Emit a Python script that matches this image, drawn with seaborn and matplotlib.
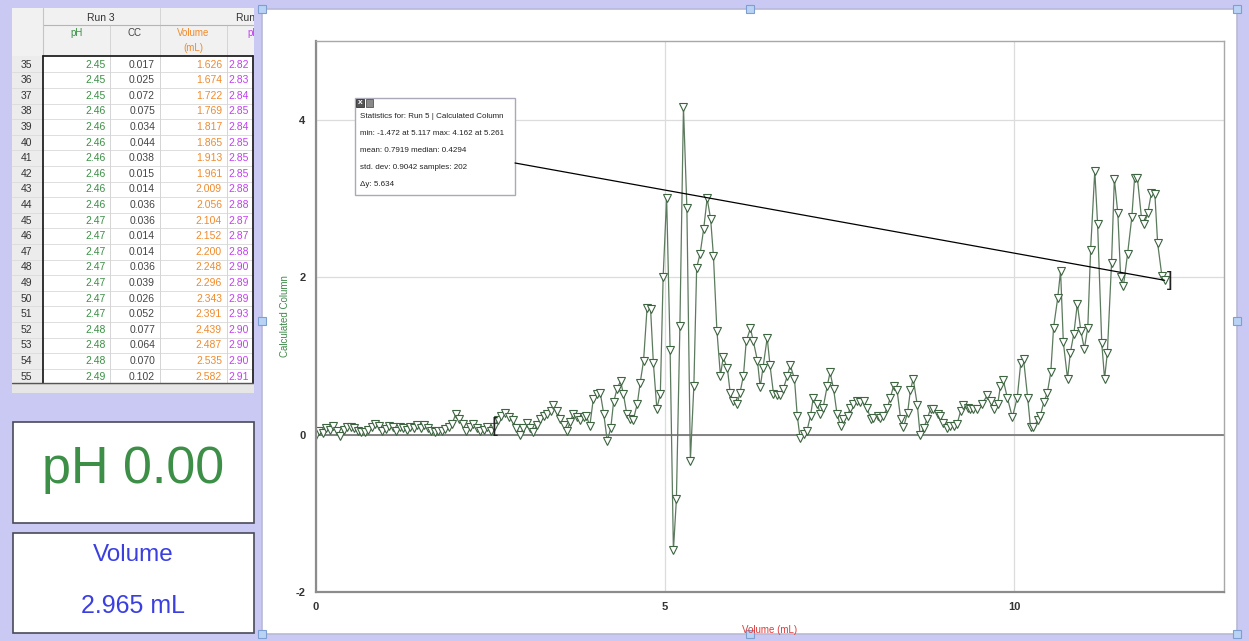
import matplotlib.pyplot as plt
import seaborn as sns
import pandas as pd
from matplotlib.patches import Rectangle, ConnectionPatch

# ---- graph data (Run 5, Calculated Column vs Volume) ----
vol = [0.00, 0.05, 0.10, 0.15, 0.20, 0.25, 0.30, 0.35, 0.40, 0.45, 0.50, 0.55, 0.60, 0.65, 0.70,
       0.75, 0.80, 0.85, 0.90, 0.95, 1.00, 1.05, 1.10, 1.15, 1.20, 1.25, 1.30, 1.35, 1.40, 1.45,
       1.50, 1.55, 1.60, 1.65, 1.70, 1.75, 1.80, 1.85, 1.90, 1.95, 2.00, 2.05, 2.10, 2.15, 2.20,
       2.25, 2.30, 2.35, 2.40, 2.45, 2.50, 2.55, 2.60, 2.65, 2.71, 2.77, 2.82, 2.87, 2.92, 2.97,
       3.02, 3.07, 3.11, 3.16, 3.21, 3.26, 3.31, 3.36, 3.40, 3.45, 3.50, 3.55, 3.59, 3.64, 3.68,
       3.73, 3.78, 3.83, 3.87, 3.92, 3.97, 4.02, 4.07, 4.12, 4.17, 4.22, 4.26, 4.31, 4.36, 4.40,
       4.45, 4.50, 4.54, 4.60, 4.64, 4.69, 4.74, 4.79, 4.83, 4.88, 4.93, 4.97, 5.02, 5.07, 5.117,
       5.16, 5.21, 5.261, 5.31, 5.36, 5.41, 5.45, 5.50, 5.55, 5.60, 5.65, 5.69, 5.74, 5.79, 5.83,
       5.89, 5.93, 5.97, 6.03, 6.07, 6.12, 6.16, 6.22, 6.26, 6.32, 6.36, 6.40, 6.46, 6.50, 6.55,
       6.60, 6.65, 6.69, 6.75, 6.79, 6.85, 6.89, 6.93, 6.98, 7.03, 7.08, 7.12, 7.18, 7.22, 7.26,
       7.32, 7.36, 7.41, 7.46, 7.51, 7.55, 7.61, 7.65, 7.69, 7.75, 7.79, 7.84, 7.89, 7.94, 7.98,
       8.04, 8.08, 8.12, 8.18, 8.22, 8.27, 8.32, 8.37, 8.41, 8.47, 8.51, 8.55, 8.61, 8.65, 8.70,
       8.75, 8.80, 8.84, 8.90, 8.94, 8.98, 9.04, 9.08, 9.13, 9.18, 9.23, 9.27, 9.33, 9.37, 9.41,
       9.47, 9.54, 9.61, 9.66, 9.70, 9.76, 9.80, 9.84, 9.90, 9.97, 10.04, 10.09, 10.13, 10.19, 10.23,
       10.27, 10.33, 10.37, 10.42, 10.47, 10.52, 10.56, 10.62, 10.66, 10.70, 10.76, 10.80, 10.85, 10.90, 10.95,
       11.00, 11.05, 11.09, 11.15, 11.19, 11.25, 11.29, 11.33, 11.39, 11.43, 11.48, 11.52, 11.56, 11.62, 11.68,
       11.72, 11.76, 11.82, 11.86, 11.91, 11.96, 12.01, 12.05, 12.11, 12.15]
calc = [0.00, 0.04, 0.02, 0.08, 0.06, 0.11, 0.05, -0.02, 0.06, 0.10, 0.09, 0.08, 0.05, 0.03, 0.03,
        0.06, 0.09, 0.13, 0.11, 0.04, 0.07, 0.11, 0.09, 0.05, 0.10, 0.08, 0.06, 0.10, 0.08, 0.12,
        0.08, 0.12, 0.08, 0.05, 0.03, 0.05, 0.04, 0.07, 0.10, 0.14, 0.26, 0.20, 0.13, 0.04, 0.10,
        0.14, 0.08, 0.04, 0.06, 0.09, 0.05, 0.10, 0.18, 0.24, 0.28, 0.22, 0.18, 0.08, 0.00, 0.08,
        0.15, 0.08, 0.03, 0.12, 0.20, 0.24, 0.26, 0.30, 0.37, 0.30, 0.20, 0.12, 0.05, 0.16, 0.26,
        0.22, 0.18, 0.22, 0.24, 0.11, 0.45, 0.52, 0.53, 0.26, -0.08, 0.08, 0.41, 0.58, 0.68, 0.52,
        0.26, 0.20, 0.18, 0.39, 0.65, 0.94, 1.61, 1.60, 0.91, 0.33, 0.52, 2.00, 3.01, 1.07, -1.472,
        -0.82, 1.38, 4.162, 2.88, -0.33, 0.62, 2.12, 2.30, 2.61, 3.00, 2.74, 2.27, 1.32, 0.75, 0.98,
        0.84, 0.53, 0.43, 0.39, 0.53, 0.75, 1.19, 1.35, 1.19, 0.94, 0.60, 0.85, 1.23, 0.88, 0.52,
        0.50, 0.50, 0.58, 0.75, 0.88, 0.71, 0.24, -0.04, 0.01, 0.05, 0.24, 0.47, 0.39, 0.26, 0.34,
        0.62, 0.79, 0.58, 0.26, 0.11, 0.20, 0.24, 0.34, 0.39, 0.43, 0.41, 0.43, 0.34, 0.20, 0.21,
        0.24, 0.21, 0.24, 0.34, 0.46, 0.62, 0.56, 0.20, 0.09, 0.28, 0.56, 0.71, 0.37, -0.01, 0.08,
        0.20, 0.33, 0.33, 0.26, 0.24, 0.15, 0.08, 0.11, 0.11, 0.14, 0.30, 0.37, 0.34, 0.33, 0.33,
        0.33, 0.39, 0.50, 0.43, 0.33, 0.39, 0.62, 0.69, 0.46, 0.22, 0.47, 0.91, 0.96, 0.46, 0.09,
        0.09, 0.18, 0.24, 0.41, 0.53, 0.79, 1.36, 1.74, 2.08, 1.17, 0.71, 1.04, 1.28, 1.66, 1.32,
        1.09, 1.36, 2.34, 3.35, 2.68, 1.16, 0.71, 1.04, 2.18, 3.25, 2.81, 2.00, 1.89, 2.30, 2.76,
        3.26, 3.26, 2.74, 2.68, 2.82, 3.07, 3.06, 2.43, 2.02, 1.96]
sel_start = 2.56

# ---- data table ----
row_ids = list(range(35, 56))
ph_run3 = [2.45, 2.45, 2.45, 2.46, 2.46, 2.46, 2.46, 2.46, 2.46, 2.46, 2.47, 2.47, 2.47, 2.47,
           2.47, 2.47, 2.47, 2.48, 2.48, 2.48, 2.49]
cc_run3 = [0.017, 0.025, 0.072, 0.075, 0.034, 0.044, 0.038, 0.015, 0.014, 0.036, 0.036, 0.014,
           0.014, 0.036, 0.039, 0.026, 0.052, 0.077, 0.064, 0.070, 0.102]
vol_run4 = [1.626, 1.674, 1.722, 1.769, 1.817, 1.865, 1.913, 1.961, 2.009, 2.056, 2.104, 2.152,
            2.200, 2.248, 2.296, 2.343, 2.391, 2.439, 2.487, 2.535, 2.582]
ph_run4 = [2.82, 2.83, 2.84, 2.85, 2.84, 2.85, 2.85, 2.85, 2.88, 2.88, 2.87, 2.87, 2.88, 2.90,
           2.89, 2.89, 2.93, 2.90, 2.90, 2.90, 2.91]

stats_lines = ["Statistics for: Run 5 | Calculated Column",
               "min: -1.472 at 5.117 max: 4.162 at 5.261",
               "mean: 0.7919 median: 0.4294",
               "std. dev: 0.9042 samples: 202",
               "\u0394y: 5.634"]

sns.set_style("white")
plt.rcParams['font.family'] = ['Liberation Sans', 'DejaVu Sans']
plt.rcParams['axes.unicode_minus'] = False

W, H = 1249, 641
LAV = '#c9c9f4'
GREEN = '#3d8f47'
BLUE = '#3b3fe0'
ORANGE = '#f08a2c'
MAGENTA = '#c23ff0'

fig = plt.figure(figsize=(W / 100, H / 100), dpi=100)
fig.patch.set_facecolor(LAV)


def px_axes(x0, y0, x1, y1, z=0):
    a = fig.add_axes([x0 / W, 1 - y1 / H, (x1 - x0) / W, (y1 - y0) / H], zorder=z)
    a.set_xlim(x0, x1)
    a.set_ylim(y1, y0)
    a.axis('off')
    return a


# background layer: graph window, meter boxes
bg = px_axes(0, 0, W, H, z=0)
bg.add_patch(Rectangle((262, 9), 975, 625, facecolor='white', edgecolor='#b9b9d6', lw=1.2))
for (bx, by, bw, bh) in [(13, 422, 241, 101), (13, 533, 241, 100)]:
    bg.add_patch(Rectangle((bx, by), bw, bh, facecolor='white', edgecolor='#4a4a5a', lw=1.2))
bg.text(133, 469, "pH 0.00", color=GREEN, fontsize=37.5, ha='center', va='center')
bg.text(133, 555, "Volume", color=BLUE, fontsize=17.5, ha='center', va='center')
bg.text(133, 606, "2.965 mL", color=BLUE, fontsize=18, ha='center', va='center')
for hx, hy in [(262, 9), (750, 9), (1237, 9), (262, 321), (1237, 321), (262, 634), (750, 634), (1237, 634)]:
    bg.add_patch(Rectangle((hx - 4, hy - 4), 8, 8, facecolor='#b9d3f5', edgecolor='#7f9fd0', lw=0.8, zorder=5))

# table layer
tb = px_axes(12, 8, 254, 393, z=1)
tb.add_patch(Rectangle((12, 8), 242, 385, facecolor='white', edgecolor='none'))
tb.add_patch(Rectangle((12, 8), 242, 48, facecolor='#f1f1f1', edgecolor='none'))
tb.add_patch(Rectangle((12, 56), 31, 327, facecolor='#ececec', edgecolor='none'))
tb.add_patch(Rectangle((12, 383), 242, 10, facecolor='#e6e6e6', edgecolor='none'))
row_h = 15.6
for i, rid in enumerate(row_ids):
    yc = 64.5 + i * row_h
    tb.plot([12, 254], [yc + row_h / 2] * 2, color='#dddddd', lw=0.7)
    tb.text(21, yc, str(rid), fontsize=7.5, color='#333333', va='center', ha='left')
    tb.text(106, yc, f"{ph_run3[i]:.2f}", fontsize=7.5, color=GREEN, va='center', ha='right')
    tb.text(155, yc, f"{cc_run3[i]:.3f}", fontsize=7.5, color='#444444', va='center', ha='right')
    tb.text(222, yc, f"{vol_run4[i]:.3f}", fontsize=7.5, color=ORANGE, va='center', ha='right')
    tb.text(228, yc, f"{ph_run4[i]:.2f}", fontsize=7.5, color=MAGENTA, va='center', ha='left', clip_on=True)
for cx in [110, 160, 227]:
    tb.plot([cx, cx], [25, 383], color='#d5d5d5', lw=0.7)
tb.plot([160, 160], [8, 383], color='#d5d5d5', lw=0.7)
tb.plot([43, 254], [25, 25], color='#b5b5b5', lw=0.8)
tb.plot([43, 43], [8, 56], color='#c5c5c5', lw=0.8)
tb.plot([43, 43], [56, 383], color='#222222', lw=1.3)
tb.plot([43, 253], [56, 56], color='#222222', lw=1.3)
tb.plot([253, 253], [56, 383], color='#222222', lw=1.3)
tb.plot([12, 253], [383, 383], color='#555555', lw=1.0)
tb.text(101, 18, "Run 3", fontsize=7.5, color='#333333', ha='center', va='center')
tb.text(236, 18, "Run 4", fontsize=7.5, color='#333333', ha='left', va='center', clip_on=True)
tb.text(77, 33, "pH", fontsize=7, color=GREEN, ha='center', va='center')
tb.text(135, 33, "CC", fontsize=7, color='#444444', ha='center', va='center')
tb.text(193, 33, "Volume", fontsize=7, color=ORANGE, ha='center', va='center')
tb.text(193, 48, "(mL)", fontsize=7, color=ORANGE, ha='center', va='center')
tb.text(247, 33, "pH", fontsize=7, color=MAGENTA, ha='left', va='center', clip_on=True)

# main graph
ax = fig.add_axes([316 / W, (H - 592) / H, 908 / W, 551 / H], zorder=2)
df = pd.DataFrame({'Volume (mL)': vol, 'Calculated Column': calc})
sns.lineplot(data=df, x='Volume (mL)', y='Calculated Column', ax=ax, sort=False, estimator=None,
             color='#5c7a5e', lw=0.9, marker='v', markersize=5.2, markerfacecolor='white',
             markeredgecolor='#3f6442', markeredgewidth=0.8)
ax.set_xlim(0, 13.0)
ax.set_ylim(-2, 5)
ax.set_xticks([0, 5, 10])
ax.set_xticks(range(0, 14), minor=True)
ax.set_yticks([-2, 0, 2, 4])
ax.grid(True, which='major', color='#dcdcdc', lw=0.9)
ax.axhline(0, color='#7a7a7a', lw=1.3, zorder=1)
ax.tick_params(axis='both', which='major', labelsize=8, labelcolor='#333333', color='#888888',
               length=4, width=1, direction='out')
ax.tick_params(axis='x', which='minor', length=3, color='#999999', direction='out')
for lab in ax.get_xticklabels() + ax.get_yticklabels():
    lab.set_fontweight('bold')
for s in ['left', 'bottom']:
    ax.spines[s].set_color('#8c8c8c')
    ax.spines[s].set_linewidth(1.6)
for s in ['top', 'right']:
    ax.spines[s].set_color('#a8a8a8')
    ax.spines[s].set_linewidth(1.0)
ax.set_xlabel('Volume (mL)', color='#e03a3a', fontsize=7, labelpad=9)
ax.set_ylabel('Calculated Column', color='#3f8a4a', fontsize=7, labelpad=4)
ax.text(sel_start, calc[vol.index(2.55)], "[", fontsize=15, ha='center', va='center', color='#222222')
ax.text(vol[-1] + 0.08, calc[-1], "]", fontsize=15, ha='center', va='center', color='#222222')

# statistics box overlay
ov = px_axes(0, 0, W, H, z=3)
ov.add_patch(Rectangle((355, 98), 160, 97, facecolor='white', edgecolor='#a9a9b8', lw=1.0))
ov.add_patch(Rectangle((356, 99), 8, 8, facecolor='#555555', edgecolor='#333333', lw=0.6))
ov.text(360, 103, "x", fontsize=6, color='white', ha='center', va='center', fontweight='bold')
ov.add_patch(Rectangle((366, 99), 7, 8, facecolor='#8a8a8a', edgecolor='#555555', lw=0.6))
for k, line in enumerate(stats_lines):
    ov.text(360, 117 + k * 16.8, line, fontsize=5.8, color='#222222', ha='left', va='center')
con = ConnectionPatch(xyA=(515, 163), coordsA=ov.transData, xyB=(vol[-1], calc[-1]),
                      coordsB=ax.transData, color='black', lw=0.9, zorder=10)
fig.add_artist(con)

plt.savefig('out.png', dpi=100, facecolor=fig.get_facecolor())
plt.close()
